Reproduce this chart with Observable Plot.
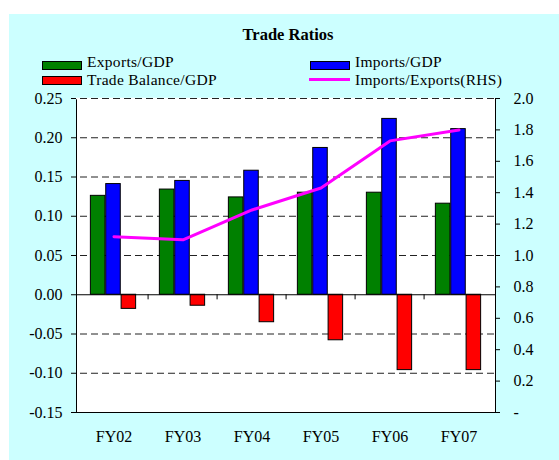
<!DOCTYPE html>
<html><head><meta charset="utf-8">
<script src="https://cdn.jsdelivr.net/npm/d3@7"></script>
<script src="https://cdn.jsdelivr.net/npm/@observablehq/plot@0.6"></script>
<style>
body{margin:0;background:#fff;width:559px;height:460px;position:relative;overflow:hidden;font-family:"Liberation Serif","Times New Roman",serif;color:#000;}
#bg{position:absolute;left:9px;top:14px;width:550px;height:446px;background:#ccffff;}
#title{position:absolute;left:188px;width:200px;top:26px;text-align:center;font-weight:bold;font-size:16.5px;line-height:18px;}
.sw{position:absolute;width:38px;height:7px;border:1px solid #000;}
.ln{position:absolute;width:41px;height:3px;background:#ff00ff;}
.lt{position:absolute;font-size:15.5px;line-height:18px;height:18px;white-space:nowrap;letter-spacing:0.3px;}
#chart{position:absolute;left:9px;top:88px;}
</style></head>
<body>
<div id="bg"></div>
<div id="title">Trade Ratios</div>
<div id="legend"></div>
<div id="chart"></div>
<script>
const categories = ["FY02","FY03","FY04","FY05","FY06","FY07"];
const exportsGDP = [0.126, 0.134, 0.124, 0.130, 0.130, 0.116];
const importsGDP = [0.141, 0.145, 0.158, 0.187, 0.224, 0.211];
const balanceGDP = [-0.018, -0.014, -0.035, -0.058, -0.096, -0.096];
const importsExports = [1.12, 1.10, 1.29, 1.43, 1.73, 1.80];
const leftTicks = [-0.15, -0.10, -0.05, 0.00, 0.05, 0.10, 0.15, 0.20, 0.25];
const rightTicks = [0, 0.2, 0.4, 0.6, 0.8, 1.0, 1.2, 1.4, 1.6, 1.8, 2.0];
const gridValues = [-0.10, -0.05, 0.05, 0.10, 0.15, 0.20, 0.25];
const seriesNames = ["Exports/GDP", "Imports/GDP", "Trade Balance/GDP", "Imports/Exports(RHS)"];
const seriesColors = ["#008000", "#0000ff", "#ff0000", "#ff00ff"];

// right axis (0..2) mapped onto left axis (-0.15..0.25)
const toLeft = v => Math.round((v * 0.2 - 0.15) * 1e9) / 1e9;
const toRight = y => Math.round(((y + 0.15) / 0.2) * 10) / 10;

const rows = categories.map((c, i) => ({
  cat: c, exp: exportsGDP[i], imp: importsGDP[i], bal: balanceGDP[i], ratio: importsExports[i]
}));

// legend
const legendPos = [
  {sx: 42, ty: 53, sy: 61, type: "bar"},
  {sx: 310, ty: 53, sy: 61, type: "bar"},
  {sx: 42, ty: 71, sy: 76, type: "bar"},
  {sx: 310, ty: 71, sy: 78, type: "line"}
];
const legend = document.getElementById("legend");
seriesNames.forEach((name, i) => {
  const p = legendPos[i];
  const s = document.createElement("div");
  if (p.type === "bar") {
    s.className = "sw";
    s.style.left = p.sx + "px"; s.style.top = p.sy + "px";
    s.style.background = seriesColors[i];
  } else {
    s.className = "ln";
    s.style.left = (p.sx - 1) + "px"; s.style.top = p.sy + "px";
  }
  legend.appendChild(s);
  const t = document.createElement("div");
  t.className = "lt";
  t.style.left = (p.sx + 45) + "px"; t.style.top = p.ty + "px";
  t.textContent = name;
  legend.appendChild(t);
});

const W = 550, H = 372, mL = 67, mR = 64, mT = 10, mB = 48;
const bw = (W - mL - mR) / categories.length;
const barW = bw * 0.22;
const start = bw / 2 - 1.5 * barW - 0.5;
const barMark = (key, color, k) => Plot.barY(rows, {
  x: "cat", y: key, fill: color, stroke: "#000", strokeWidth: 1,
  insetLeft: start + k * barW, insetRight: bw - start - (k + 1) * barW
});

const chart = Plot.plot({
  width: W, height: H,
  marginLeft: mL, marginRight: mR, marginTop: mT, marginBottom: mB,
  style: {background: "transparent", fontFamily: "'Liberation Serif', 'Times New Roman', serif", fontSize: "16px", color: "#000"},
  x: {type: "band", domain: categories, padding: 0},
  y: {domain: [-0.15, 0.25]},
  marks: [
    Plot.frame({fill: "white", stroke: "#000"}),
    Plot.ruleY([0.25], {stroke: "white", strokeWidth: 1.5}),
    Plot.ruleY(gridValues, {stroke: "#222", strokeDasharray: "7,4", strokeDashoffset: -4}),
    barMark("exp", seriesColors[0], 0),
    barMark("imp", seriesColors[1], 1),
    barMark("bal", seriesColors[2], 2),
    Plot.ruleY([0], {stroke: "#000"}),
    Plot.ruleX(categories.slice(1), {x: d => d, y1: 0, y2: -0.0065, dx: -bw / 2, stroke: "#000"}),
    Plot.line(rows, {x: "cat", y: d => toLeft(d.ratio), stroke: seriesColors[3], strokeWidth: 3}),
    Plot.axisY(leftTicks, {anchor: "left", tickSize: 5, tickPadding: 9, tickFormat: d => d.toFixed(2), label: null}),
    Plot.axisY(rightTicks.map(toLeft), {anchor: "right", tickSize: 4, tickPadding: 14, label: null,
      tickFormat: d => { const r = toRight(d); return r === 0 ? "-" : r.toFixed(1); }}),
    Plot.axisX({anchor: "bottom", tickSize: 0, tickPadding: 18, label: null})
  ]
});
document.getElementById("chart").appendChild(chart);
</script>
</body></html>
